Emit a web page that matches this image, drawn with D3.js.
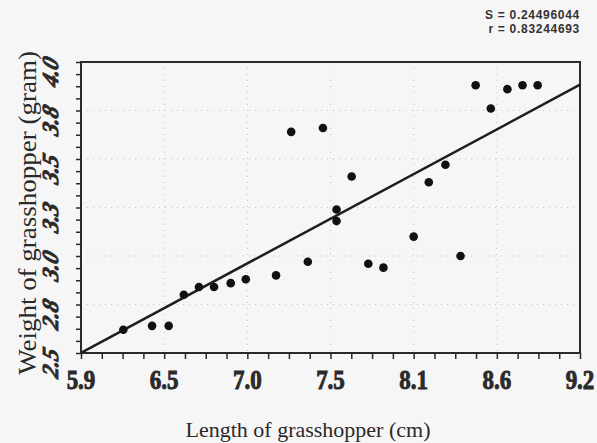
<!DOCTYPE html>
<html>
<head>
<meta charset="utf-8">
<script src="https://cdn.jsdelivr.net/npm/d3@7"></script>
<style>
    body { margin: 0; background: #f6f6f6; }
    svg { display: block; }
</style>
</head>
<body>
<script>
//==========================================================//
//  DATA
//==========================================================//

// Length (cm) of each grasshopper
var lengths = [6.18, 6.37, 6.48, 6.58, 6.68, 6.78, 6.89, 6.99, 7.19, 7.40,
               7.29, 7.50, 7.59, 7.59, 7.69, 7.80, 7.90, 8.10, 8.20, 8.31,
               8.41, 8.51, 8.61, 8.72, 8.82, 8.92];
// Weight (gram) of each grasshopper
var weights = [2.62, 2.64, 2.64, 2.80, 2.84, 2.84, 2.86, 2.88, 2.90, 2.97,
               3.64, 3.66, 3.24, 3.18, 3.41, 2.96, 2.94, 3.10, 3.38, 3.47,
               3.00, 3.88, 3.76, 3.86, 3.88, 3.88];

// Fitted line  weight = intercept + slope * length
var fitIntercept = 0.03;
var fitSlope = 0.4188;

// Axis ticks and their printed labels
var xTicks = [5.9, 6.45, 7.0, 7.55, 8.1, 8.65, 9.2];
var xTickLabels = ["5.9", "6.5", "7.0", "7.5", "8.1", "8.6", "9.2"];
var yTicks = [2.5, 2.75, 3.0, 3.25, 3.5, 3.75, 4.0];
var yTickLabels = ["2.5", "2.8", "3.0", "3.3", "3.5", "3.8", "4.0"];

var statLines = ["S = 0.24496044", "r = 0.83244693"];

//==========================================================//
//  SETUP
//==========================================================//

var margin = {left: 81, right: 17, top: 62, bottom: 90},
    width = 597 - margin.left - margin.right,
    height = 443 - margin.top - margin.bottom;

var root = d3.select("body")
    .append("svg")
    .attr("width", 597)
    .attr("height", 443);

var svg = root.append("g")
    .attr("transform", "translate(" + margin.left + "," + margin.top + ")");

var x = d3.scaleLinear()
    .domain([xTicks[0], xTicks[xTicks.length - 1]])
    .range([0, width]);

var y = d3.scaleLinear()
    .domain([yTicks[0], yTicks[yTicks.length - 1]])
    .range([height, 0]);

// minor ticks: 4 steps between each pair of majors
function minorTicks(majors) {
    var out = [];
    for (var i = 0; i < majors.length - 1; i++) {
        var step = (majors[i + 1] - majors[i]) / 4;
        for (var k = 0; k < 4; k++) out.push(majors[i] + k * step);
    }
    out.push(majors[majors.length - 1]);
    return out;
}

//==========================================================//
//  GRID
//==========================================================//

svg.append("g")
    .selectAll("line")
    .data(xTicks.slice(1, -1))
    .join("line")
        .attr("x1", function(d) { return x(d); })
        .attr("x2", function(d) { return x(d); })
        .attr("y1", 0)
        .attr("y2", height)
        .attr("stroke", "#c4c4c4")
        .attr("stroke-width", 1)
        .attr("stroke-dasharray", "1,5");

svg.append("g")
    .selectAll("line")
    .data(yTicks.slice(1, -1))
    .join("line")
        .attr("x1", 0)
        .attr("x2", width)
        .attr("y1", function(d) { return y(d); })
        .attr("y2", function(d) { return y(d); })
        .attr("stroke", "#c4c4c4")
        .attr("stroke-width", 1)
        .attr("stroke-dasharray", "1,5");

//==========================================================//
//  AXES
//==========================================================//

var xAxis = svg.append("g")
    .attr("transform", "translate(0," + height + ")")
    .call(d3.axisBottom(x)
        .tickValues(minorTicks(xTicks))
        .tickSize(6)
        .tickSizeOuter(0)
        .tickFormat(""));
xAxis.select(".domain").remove();
xAxis.selectAll("line").attr("stroke", "#2a2a2a").attr("stroke-width", 1.5);

var yAxis = svg.append("g")
    .call(d3.axisLeft(y)
        .tickValues(minorTicks(yTicks))
        .tickSize(5)
        .tickSizeOuter(0)
        .tickFormat(""));
yAxis.select(".domain").remove();
yAxis.selectAll("line").attr("stroke", "#2a2a2a").attr("stroke-width", 1.5);

// x tick labels (a bit stretched upward like the scan, stroked to look heavy)
svg.append("g")
    .selectAll("text")
    .data(xTicks)
    .join("text")
        .attr("transform", function(d) {
            return "translate(" + x(d) + "," + (height + 36) + ") scale(1,1.15)";
        })
        .attr("text-anchor", "middle")
        .style("font-family", "'Liberation Serif', 'Times New Roman', serif")
        .style("font-weight", "bold")
        .style("font-size", "23px")
        .style("fill", "#2a2a2a")
        .style("stroke", "#2a2a2a")
        .style("stroke-width", "0.8px")
        .text(function(d, i) { return xTickLabels[i]; });

// y tick labels (rotated, heavy slant, sit a little below their tick)
svg.append("g")
    .selectAll("text")
    .data(yTicks)
    .join("text")
        .attr("transform", function(d) {
            return "translate(-23," + (y(d) + 12) + ") rotate(-90) skewX(-18)";
        })
        .attr("text-anchor", "middle")
        .style("font-family", "'Liberation Serif', 'Times New Roman', serif")
        .style("font-weight", "bold")
        .style("font-style", "italic")
        .style("font-size", "23px")
        .style("fill", "#2a2a2a")
        .style("stroke", "#2a2a2a")
        .style("stroke-width", "0.8px")
        .text(function(d, i) { return yTickLabels[i]; });

// plot frame
svg.append("rect")
    .attr("x", 0)
    .attr("y", 0)
    .attr("width", width)
    .attr("height", height)
    .attr("fill", "none")
    .attr("stroke", "#2a2a2a")
    .attr("stroke-width", 2);

//==========================================================//
//  FIT LINE + POINTS
//==========================================================//

var fitX = x.domain();
svg.append("line")
    .attr("x1", x(fitX[0]))
    .attr("y1", y(fitIntercept + fitSlope * fitX[0]))
    .attr("x2", x(fitX[1]))
    .attr("y2", y(fitIntercept + fitSlope * fitX[1]))
    .attr("stroke", "#1e1e1e")
    .attr("stroke-width", 2.5);

svg.selectAll("mycircle")
    .data(lengths)
    .join("circle")
        .attr("cx", function(d) { return x(d); })
        .attr("cy", function(d, i) { return y(weights[i]); })
        .attr("r", 4.3)
        .style("fill", "#111");

//==========================================================//
//  TITLES
//==========================================================//

root.append("text")
    .attr("x", 308)
    .attr("y", 437)
    .attr("text-anchor", "middle")
    .style("font-family", "'Liberation Serif', 'Times New Roman', serif")
    .style("font-size", "22px")
    .style("fill", "#2a2a2a")
    .text("Length of grasshopper (cm)");

root.append("text")
    .attr("transform", "translate(36,213) rotate(-90) scale(1.08,1)")
    .attr("text-anchor", "middle")
    .style("font-family", "'Liberation Serif', 'Times New Roman', serif")
    .style("font-size", "25px")
    .style("fill", "#2a2a2a")
    .text("Weight of grasshopper (gram)");

root.append("g")
    .selectAll("text")
    .data(statLines)
    .join("text")
        .attr("x", 580)
        .attr("y", function(d, i) { return 19 + i * 14; })
        .attr("text-anchor", "end")
        .style("font-family", "'Liberation Sans', Arial, sans-serif")
        .style("font-weight", "bold")
        .style("font-size", "12px")
        .style("letter-spacing", "0.7px")
        .style("fill", "#333")
        .text(function(d) { return d; });
</script>
</body>
</html>
